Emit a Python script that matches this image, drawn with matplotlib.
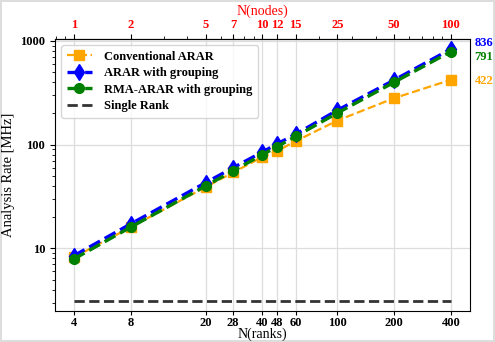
import matplotlib.pyplot as plt
from matplotlib.ticker import FixedLocator, NullFormatter, FixedFormatter

plt.rcParams['font.family'] = ['Liberation Serif', 'DejaVu Serif']

# N(ranks) and analysis rates [MHz]
ranks = [4, 8, 20, 28, 40, 48, 60, 100, 200, 400]
nodes = [1, 2, 5, 7, 10, 12, 15, 25, 50, 100]
conv_arar = [8.2, 16, 39, 54, 76, 87, 108, 171, 281, 422]
arar_group = [8.5, 17.2, 43, 60, 85, 102, 126, 215, 420, 836]
rma_group = [7.9, 16, 40, 56, 80, 96, 120, 202, 400, 791]
single_rank = 3.1
y_ticks = [10, 100, 1000]

fig = plt.figure(figsize=(4.95, 3.42), dpi=100)
ax = fig.add_axes([0.111, 0.09, 0.838, 0.796])

ax.plot(ranks, conv_arar, '--', color='#FFA500', lw=1.6, marker='s', ms=7,
        label='Conventional ARAR')
ax.plot(ranks, arar_group, '--', color='#0000FF', lw=2.4, marker='d', ms=8,
        label='ARAR with grouping')
ax.plot(ranks, rma_group, '--', color='#008000', lw=2.4, marker='o', ms=7,
        label='RMA-ARAR with grouping')
ax.plot([ranks[0], ranks[-1]], [single_rank, single_rank], '--', color='#333333',
        lw=2, label='Single Rank')

ax.set_xscale('log')
ax.set_yscale('log')
ax.set_ylim(2.48, 1045)
ax.xaxis.set_major_locator(FixedLocator(ranks))
ax.xaxis.set_minor_locator(FixedLocator([]))
ax.xaxis.set_major_formatter(FixedFormatter([str(r) for r in ranks]))
ax.yaxis.set_major_locator(FixedLocator(y_ticks))
ax.yaxis.set_major_formatter(FixedFormatter([str(v) for v in y_ticks]))
ax.yaxis.set_minor_formatter(NullFormatter())
for t in ax.get_xticklabels() + ax.get_yticklabels():
    t.set_fontweight('bold')
    t.set_fontsize(9)
ax.tick_params(axis='x', pad=1, length=3)
ax.grid(True, which='major', color='#dddddd', lw=0.9)
ax.set_axisbelow(True)
ax.set_xlabel('N(ranks)', fontsize=10, labelpad=-1)
ax.set_ylabel('Analysis Rate [MHz]', fontsize=10.5, labelpad=4)

top = ax.secondary_xaxis('top', functions=(lambda x: x / 4, lambda x: x * 4))
top.set_xticks(nodes)
top.set_xticklabels([str(n) for n in nodes], color='red', fontweight='bold', fontsize=9)
top.tick_params(axis='x', pad=2)
top.set_xlabel('N(nodes)', color='red', fontsize=10, labelpad=3)

# end values next to the right edge
ax.annotate(str(arar_group[-1]), xy=(1.012, arar_group[-1]), xycoords=('axes fraction', 'data'),
            xytext=(0, 4), textcoords='offset points', color='#0000FF',
            fontweight='bold', fontsize=9, va='center')
ax.annotate(str(rma_group[-1]), xy=(1.012, rma_group[-1]), xycoords=('axes fraction', 'data'),
            xytext=(0, -4), textcoords='offset points', color='#008000',
            fontweight='bold', fontsize=9, va='center')
ax.annotate(str(conv_arar[-1]), xy=(1.012, conv_arar[-1]), xycoords=('axes fraction', 'data'),
            xytext=(0, -1), textcoords='offset points', color='#FFA500',
            fontweight='bold', fontsize=9, va='center')

ax.legend(loc='upper left', prop={'weight': 'bold', 'size': 9},
          handlelength=2.0, labelspacing=0.35, borderpad=0.45, handletextpad=1.0)

fig.patch.set_edgecolor('#dddddd')
fig.patch.set_linewidth(1.5)
fig.savefig('out.png', dpi=100, edgecolor=fig.get_edgecolor())
